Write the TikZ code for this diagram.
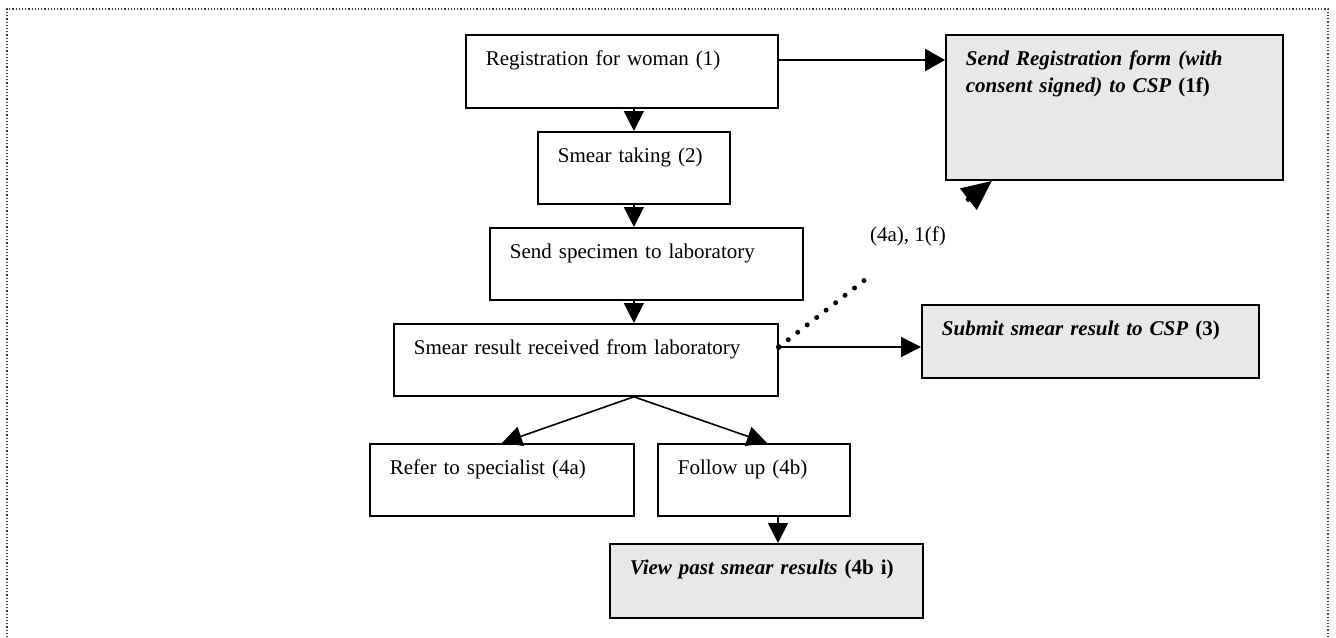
\documentclass[tikz,border=0pt]{standalone}
\usepackage{fontspec}
\setmainfont{Liberation Serif}
\usetikzlibrary{arrows.meta,calc}
\definecolor{formgrey}{RGB}{232,232,232}
\tikzset{
  procbox/.style={draw, line width=0.9pt, anchor=north west, align=left,
    inner xsep=10pt, inner ysep=0pt, text height=15.5pt,
    font=\fontsize{10.5pt}{13.5pt}\selectfont},
  cspbox/.style={procbox, fill=formgrey},
}

\begin{document}
\begin{tikzpicture}[x=0.5pt, y=-0.5pt, line width=0.8pt, >={Triangle[length=10pt,width=10pt]}]
\useasboundingbox (0,0) rectangle (1336,637);
\draw[densely dotted, line width=0.6pt, black!75] (7,650) -- (7,9) -- (1328,9) -- (1328,650);

% main flow
\node[procbox, text width=136pt, text depth=21pt] (reg) at (465,34) {Registration for woman (1)};
\node[procbox, text width=76pt, text depth=20.5pt] (take) at (537,131) {Smear taking (2)};
\node[procbox, text width=136.5pt, text depth=20.5pt] (spec) at (489,227) {Send specimen to laboratory};
\node[procbox, text width=172pt, text depth=20.5pt] (res) at (393,323) {Smear result received from laboratory};
\node[procbox, text width=112pt, text depth=20.5pt] (refer) at (369,443) {Refer to specialist (4a)};
\node[procbox, text width=76pt, text depth=20.5pt] (fol) at (657,443) {Follow up (4b)};

% CSP boxes
\node[cspbox, text width=148.5pt, text depth=57pt] (form) at (945,34)
  {\textbf{\textit{Send Registration form (with consent signed) to CSP}} \textbf{(1f)}};
\node[cspbox, text width=148.5pt, text depth=21pt] (sub) at (921,304)
  {\textbf{\textit{Submit smear result to CSP}} \textbf{(3)}};
\node[cspbox, text width=136.5pt, text depth=21.5pt] (view) at (609,543)
  {\textbf{\textit{View past smear results}} \textbf{(4b i)}};

\coordinate (regout) at ($(reg.north east)+(0,26)$);
\coordinate (tap) at ($(res.north east)+(0,24)$);

\draw[-{Triangle[length=10pt,width=11pt]}, line width=1.3pt] (regout) -- (regout -| form.west);
\draw[->] (take.north |- reg.south) -- (take.north);
\draw[->] (take.south) -- (take.south |- spec.north);
\draw[->] (take.south |- spec.south) -- (take.south |- res.north);
\draw[->] (take.south |- res.south) -- (refer.north);
\draw[->] (take.south |- res.south) -- ($(fol.north west)+(110,0)$);
\draw[->] ($(fol.south west)+(121,0)$) -- ($(view.north west)+(169,0)$);
\draw[->] (tap) -- (tap -| sub.west);

% dotted link to the form
\draw[-{Triangle[length=15pt,width=13pt]}, line width=2.5pt, line cap=round,
  dash pattern=on 0pt off 6pt] (tap) -- ($(form.south west)+(47,0)$);
\fill (tap) circle (1.4pt);
\node[fill=white, inner sep=0pt, minimum width=53.5pt, minimum height=41pt,
  font=\fontsize{10.5pt}{13.5pt}\selectfont] (lbl) at (908,236) {(4a), 1(f)};
\end{tikzpicture}
\end{document}
